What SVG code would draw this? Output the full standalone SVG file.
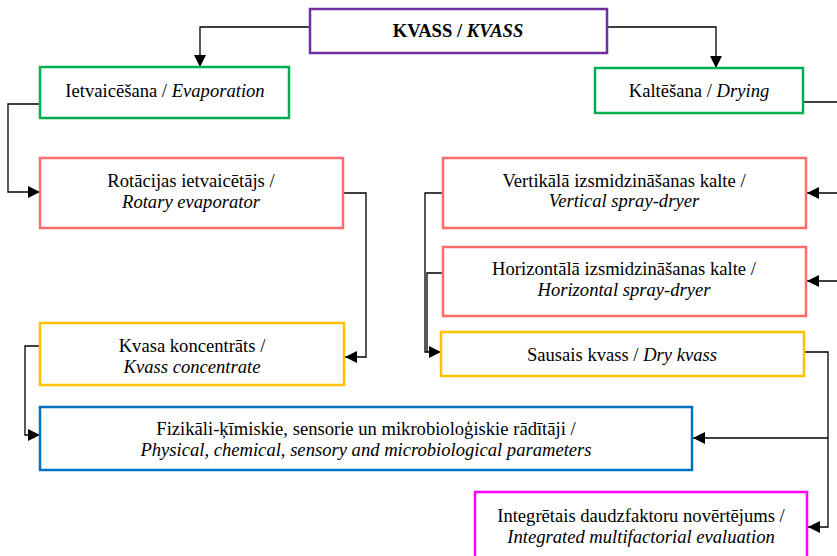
<svg xmlns="http://www.w3.org/2000/svg" width="837" height="556" viewBox="0 0 837 556">
  <style>
    .box { fill: #ffffff; stroke-width: 2.5; }
    .t { font-family: "Liberation Serif", "Times New Roman", serif; font-size: 18.6px; fill: #000; text-anchor: middle; }
    .i { font-style: italic; }
    .b { font-weight: bold; }
    .wire { fill: none; stroke: #000; stroke-width: 1.3; }
  </style>
  <defs>
    <marker id="arrow" viewBox="0 0 12 12" refX="12" refY="6" markerWidth="12" markerHeight="12" markerUnits="userSpaceOnUse" orient="auto">
      <path d="M0,0 L12,6 L0,12 Z" fill="#000"/>
    </marker>
  </defs>

  <rect width="837" height="556" fill="#ffffff"/>

  <!-- connectors -->
  <g id="connectors">
    <path class="wire" d="M310,27 H200 V67" marker-end="url(#arrow)"/>
    <path class="wire" d="M607,27 H716 V68" marker-end="url(#arrow)"/>
    <path class="wire" d="M40,104 H8 V192 H40" marker-end="url(#arrow)"/>
    <path class="wire" d="M343,193 H366 V357 H345" marker-end="url(#arrow)"/>
    <path class="wire" d="M40,346 H25 V435 H40" marker-end="url(#arrow)"/>
    <path class="wire" d="M803,102 H840"/>
    <path class="wire" d="M840,193 H807" marker-end="url(#arrow)"/>
    <path class="wire" d="M840,281 H807" marker-end="url(#arrow)"/>
    <path class="wire" d="M443,193 H425 V352 H441" marker-end="url(#arrow)"/>
    <path class="wire" d="M443,273 H427 V352"/>
    <path class="wire" d="M804,352 H828 V527 H808" marker-end="url(#arrow)"/>
    <path class="wire" d="M828,438 H693" marker-end="url(#arrow)"/>
  </g>

  <g id="kvass">
    <rect class="box" x="310" y="9" width="297" height="44" stroke="#7030A0"/>
    <text class="t b" x="458" y="37">KVASS / <tspan class="i">KVASS</tspan></text>
  </g>

  <g id="evaporation">
    <rect class="box" x="40" y="67" width="249" height="51" stroke="#00B050"/>
    <text class="t" x="165" y="97">Ietvaicēšana / <tspan class="i">Evaporation</tspan></text>
  </g>

  <g id="drying">
    <rect class="box" x="595" y="68" width="208" height="45" stroke="#00B050"/>
    <text class="t" x="699" y="97">Kaltēšana / <tspan class="i">Drying</tspan></text>
  </g>

  <g id="rotary-evaporator">
    <rect class="box" x="40" y="158" width="303" height="70" stroke="#FF6B6B"/>
    <text class="t" x="191" y="187">Rotācijas ietvaicētājs /</text>
    <text class="t i" x="191" y="208">Rotary evaporator</text>
  </g>

  <g id="vertical-spray-dryer">
    <rect class="box" x="443" y="158" width="363" height="70" stroke="#FF6B6B"/>
    <text class="t" x="624" y="187">Vertikālā izsmidzināšanas kalte /</text>
    <text class="t i" x="624" y="207">Vertical spray-dryer</text>
  </g>

  <g id="horizontal-spray-dryer">
    <rect class="box" x="443" y="247" width="363" height="69" stroke="#FF6B6B"/>
    <text class="t" x="624" y="275">Horizontālā izsmidzināšanas kalte /</text>
    <text class="t i" x="624" y="296">Horizontal spray-dryer</text>
  </g>

  <g id="kvass-concentrate">
    <rect class="box" x="40" y="323" width="304" height="62" stroke="#FFC000"/>
    <text class="t" x="192" y="352">Kvasa koncentrāts /</text>
    <text class="t i" x="192" y="373">Kvass concentrate</text>
  </g>

  <g id="dry-kvass">
    <rect class="box" x="441" y="332" width="363" height="44" stroke="#FFC000"/>
    <text class="t" x="622" y="361">Sausais kvass / <tspan class="i">Dry kvass</tspan></text>
  </g>

  <g id="parameters">
    <rect class="box" x="40" y="407" width="652" height="63" stroke="#0070C0"/>
    <text class="t" x="366" y="435">Fizikāli-ķīmiskie, sensorie un mikrobioloģiskie rādītāji /</text>
    <text class="t i" x="366" y="456">Physical, chemical, sensory and microbiological parameters</text>
  </g>

  <g id="integrated-evaluation">
    <rect class="box" x="475" y="492" width="332" height="80" stroke="#FF00FF"/>
    <text class="t" x="641" y="522">Integrētais daudzfaktoru novērtējums /</text>
    <text class="t i" x="641" y="543">Integrated multifactorial evaluation</text>
  </g>
</svg>
